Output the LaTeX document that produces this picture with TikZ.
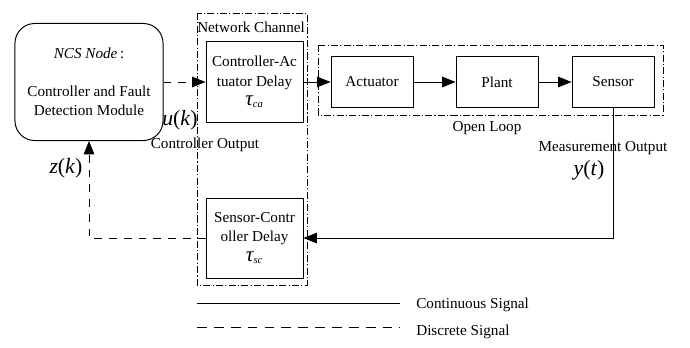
\documentclass[tikz,border=0pt]{standalone}
\usepackage{fontspec}
\setmainfont{Liberation Serif}
\usetikzlibrary{arrows.meta,positioning}

\begin{document}
\begin{tikzpicture}[x=0.025cm,y=-0.025cm,
font=\fontsize{10.8}{13.8}\selectfont,
blk/.style={draw,line width=0.7pt,minimum width=2.05cm,minimum height=1.275cm,align=center,inner sep=1pt},
dly/.style={blk,minimum width=2.425cm,minimum height=2cm},
grp/.style={line width=0.6pt,dash pattern=on 5pt off 1.6pt on 0.8pt off 1.6pt},
arr/.style={-{Triangle[length=9.5pt,width=7.5pt]},line width=0.6pt},
disc/.style={arr,dash pattern=on 5.5pt off 5pt},
lbl/.style={inner sep=0pt},
sym/.style={lbl,font=\fontsize{15.5}{15.5}\selectfont}
]
\useasboundingbox (0,0) rectangle (690,348);
\node[draw,line width=0.7pt,rounded corners=14pt,minimum width=3.7cm,minimum height=2.925cm,align=center] (ncs) at (89,82) {\textit{NCS Node}\,:\\[13pt]Controller and Fault\\Detection Module};
\node[dly,right=10.5mm of ncs] (ca) {Controller-Ac\\tuator Delay\\{\fontsize{15}{15}\selectfont\itshape τ}\textsubscript{\itshape ca}};
\node[blk,right=6.75mm of ca] (act) {Actuator};
\node[blk,right=10.5mm of act] (plant) {Plant};
\node[blk,right=8.25mm of plant] (sens) {Sensor};
\node[dly,below=18.75mm of ca] (sc) {Sensor-Contr\\oller Delay\\{\fontsize{15}{15}\selectfont\itshape τ}\textsubscript{\itshape sc}};

\draw[grp] (197,13) rectangle (307,285);
\draw[grp] (318,45) rectangle (663,115);

\node[lbl,anchor=west] (nc) at (197,27) {Network Channel};
\node[lbl] (ol) at (487,128) {Open Loop};
\node[lbl] (mo) at (603,148) {Measurement Output};
\node[lbl] (co) at (205,145) {Controller Output};
\node[sym] (uk) at (180,120) {\textit{u}(\textit{k})};
\node[sym] (zk) at (66,168) {\textit{z}(\textit{k})};
\node[sym] (yt) at (589,170) {\textit{y}(\textit{t})};

\draw[disc] (ncs) -- (ca);
\foreach \a/\b in {ca/act,act/plant,plant/sens} \draw[arr] (\a) -- (\b);
\draw[arr] (sens.south) |- (sc.east);
\draw[disc] (sc.west) -| (ncs.south);

\coordinate (c0) at (197,303);
\coordinate (c1) at (400,303);
\coordinate (d0) at (197,327);
\coordinate (d1) at (400,327);
\draw[line width=0.6pt] (c0) -- (c1);
\draw[line width=0.6pt,dash pattern=on 7pt off 5pt] (d0) -- (d1);
\node[lbl,anchor=west] (cs) at (416,305) {Continuous Signal};
\node[lbl,anchor=west] (ds) at (416,332) {Discrete Signal};
\end{tikzpicture}
\end{document}
